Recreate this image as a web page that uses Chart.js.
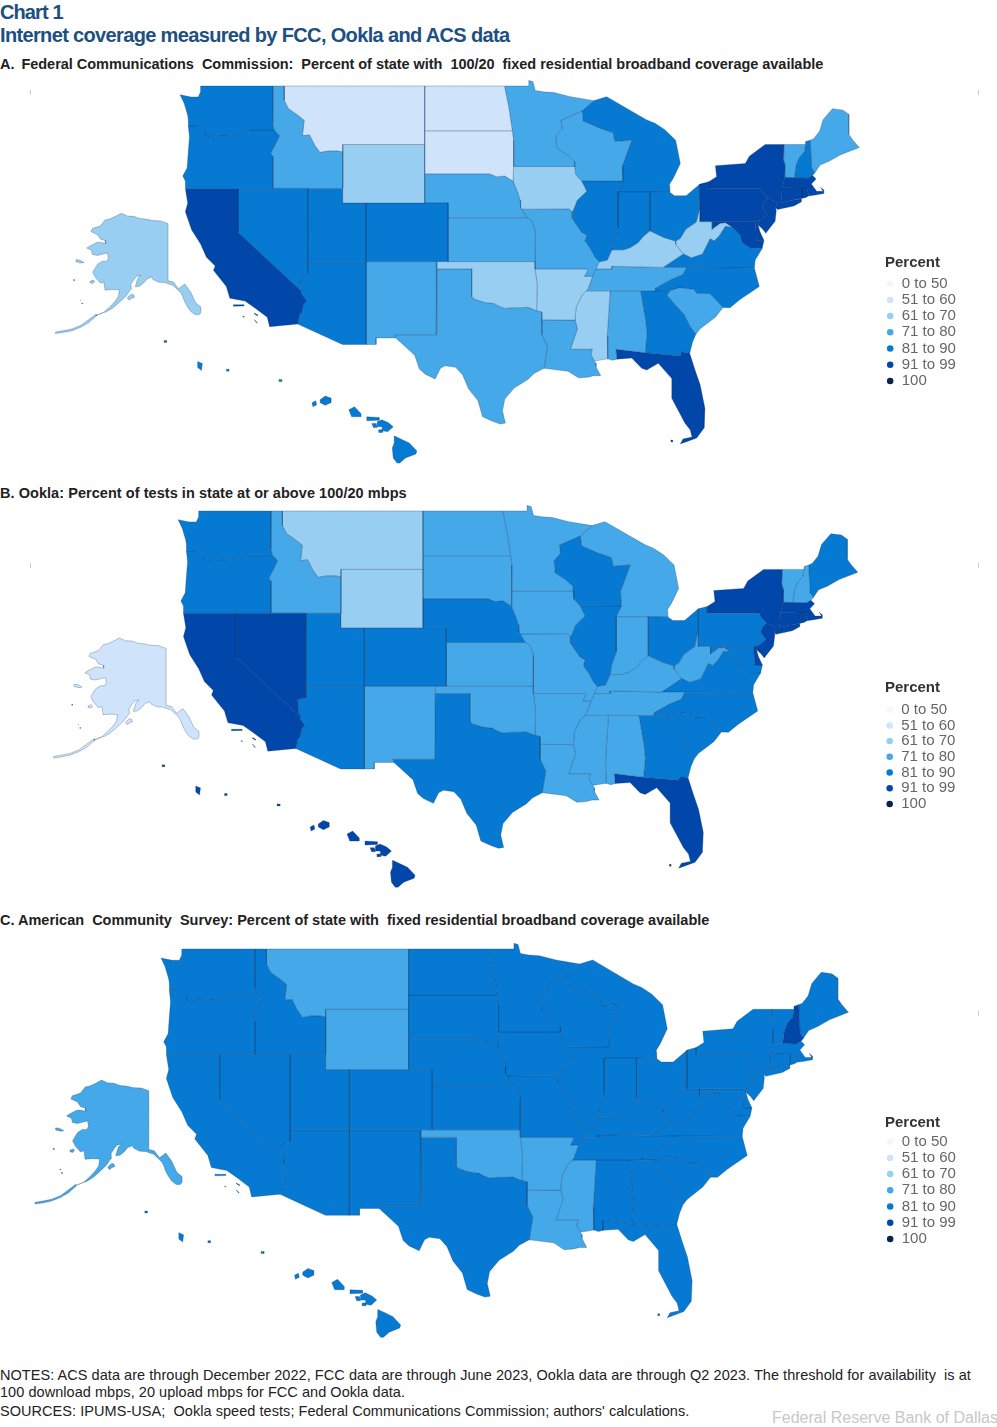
<!DOCTYPE html>
<html>
<head>
<meta charset="utf-8">
<script src="https://cdn.jsdelivr.net/npm/chart.js@4/dist/chart.umd.min.js"></script>
<style>
  html, body { margin: 0; padding: 0; background: #fff; }
  #page { position: relative; width: 997px; height: 1427px; overflow: hidden; font-family: "Liberation Sans", Arial, sans-serif; }
  #page div, #page canvas { position: absolute; }
  .txt { left: 0; white-space: pre; }
  .head { color: #1d4f82; font-weight: bold; font-size: 20px; line-height: 24px; }
  .sub { color: #222; font-weight: bold; font-size: 14.5px; line-height: 18px; }
  .note { color: #222; font-size: 14.5px; line-height: 18px; letter-spacing: .05px; }
  .tick { width: 1px; height: 5px; background: #ccc; }
</style>
</head>
<body>
<div id="page">
  <div class="txt head" style="top:0;letter-spacing:-.9px">Chart 1</div>
  <div class="txt head" style="top:23px;letter-spacing:-.65px">Internet coverage measured by FCC, Ookla and ACS data</div>
  <div class="txt sub" style="top:55px;letter-spacing:-.035px">A. <span style="margin-left:3px">Federal Communications  Commission:  Percent of state with  100/20  fixed residential broadband coverage available</span></div>
  <div class="txt sub" style="top:484px;letter-spacing:.05px">B. Ookla: Percent of tests in state at or above 100/20 mbps</div>
  <div class="txt sub" style="top:911px">C. American  Community  Survey: Percent of state with  fixed residential broadband coverage available</div>
  <div class="tick" style="left:30px;top:90px"></div><div class="tick" style="left:978px;top:90px"></div>
  <div class="tick" style="left:30px;top:563px"></div><div class="tick" style="left:978px;top:563px"></div>
  <div class="tick" style="left:978px;top:1011px"></div>
  <canvas id="mapA" width="997" height="400" style="left:0;top:76px"></canvas>
  <canvas id="mapB" width="997" height="400" style="left:0;top:500px"></canvas>
  <canvas id="mapC" width="997" height="410" style="left:0;top:935px"></canvas>
  <div class="txt note" style="top:1366px">NOTES: ACS data are through December 2022, FCC data are through June 2023, Ookla data are through Q2 2023. The threshold for availability  is at</div>
  <div class="txt note" style="top:1383px">100 download mbps, 20 upload mbps for FCC and Ookla data.</div>
  <div class="txt note" style="top:1402px">SOURCES: IPUMS-USA;  Ookla speed tests; Federal Communications Commission; authors' calculations.</div>
  <div class="txt" style="left:772px;top:1409px;font-size:16px;color:#c8c8c8">Federal Reserve Bank of Dallas</div>
</div>
<script>
const binLabels = ['0 to 50', '51 to 60', '61 to 70', '71 to 80', '81 to 90', '91 to 99', '100'];
const binTops = [50, 60, 70, 80, 90, 99, 100];
const binColors = ['#f3f7fd', '#cfe3fa', '#97cef2', '#45a8e8', '#067ad3', '#0147a9', '#0a2348'];

const stateCodes = ['WA','OR','CA','NV','ID','MT','WY','UT','AZ','CO','NM','ND','SD','NE','KS','OK','TX','MN','IA','MO','AR','LA','WI','IL','IN','OH','MI','KY','TN','MS','AL','GA','FL','SC','NC','VA','WV','PA','NY','NJ','DE','MD','CT','RI','MA','VT','NH','ME','AK','HI'];
const fccPct   = [85,85,93,85,76,55,66,85,85,85,76,55,55,76,76,66,76,76,66,76,66,76,76,85,85,85,85,66,76,66,76,85,93,76,85,85,66,93,93,93,93,93,93,93,93,76,85,76,66,85];
const ooklaPct = [85,85,93,93,76,66,66,85,85,85,76,76,76,85,76,76,85,76,76,76,76,76,85,85,76,85,76,76,76,76,76,85,93,85,85,85,76,85,93,93,93,85,93,93,93,76,76,85,55,93];
const acsPct   = [85,85,85,85,85,76,76,85,85,85,85,85,85,85,85,76,85,85,85,85,76,76,85,85,85,85,85,85,85,76,85,85,85,85,85,85,85,85,85,85,85,85,85,85,85,85,93,85,76,85];

// outlines in lon,lat pairs, one array per ring
const WA = [[-123.2,49,-117.03,49,-117.04,46.42,-116.92,46,-118.98,46,-119.3,45.93,-120.2,45.72,-121.2,45.65,-121.9,45.68,-122.3,45.55,-122.76,45.65,-122.8,45.95,-123.2,46.15,-123.55,46.26,-124.25,46.27,-124.25,46.7,-124.3,47,-124.6,47.8,-124.95,48.4,-124,48.25,-123.4,48.25,-123.2,48.6]];
const OR = [[-124.25,46.27,-123.55,46.26,-123.2,46.15,-122.8,45.95,-122.76,45.65,-122.3,45.55,-121.9,45.68,-121.2,45.65,-120.2,45.72,-119.3,45.93,-118.98,46,-116.92,46,-116.46,45.6,-116.85,44.95,-117.22,44.4,-117.03,44.2,-117.03,42,-124.5,42,-124.5,42.5,-124.72,42.84,-124.35,43.4,-124.25,44.5,-124.15,45.5]];
const CA = [[-124.5,42,-120,42,-120,39,-114.63,35,-114.57,34.8,-114.14,34.3,-114.43,34.05,-114.52,33.55,-114.72,33.4,-114.9,32.73,-117.3,32.55,-117.5,33.2,-118.5,33.8,-119.4,34.3,-120.7,34.5,-121,35.3,-122.1,36.4,-121.95,36.7,-122.7,37.3,-123.2,38.2,-123.96,39.15,-124.5,40.4,-124.3,41],
  [-120.4,34.05,-119.5,34.05,-119.5,33.97,-120.4,33.95],[-118.6,33.48,-118.3,33.35,-118.35,33.3,-118.6,33.42],[-118.6,33.03,-118.35,32.82,-118.4,32.8,-118.6,33],[-119.55,33.28,-119.45,33.22,-119.5,33.2,-119.6,33.24]];
const NV = [[-120,42,-114.04,42,-114.05,36.2,-114.75,36.1,-114.63,35,-120,39]];
const ID = [[-117.03,49,-116.05,49,-116.05,48,-115.7,47.45,-114.9,47,-114.35,46.65,-114.5,45.6,-113.9,45.65,-113.45,44.95,-113,44.45,-112.3,44.55,-111.5,44.55,-111.05,44.48,-111.05,42,-117.03,42,-117.03,44.2,-117.22,44.4,-116.85,44.95,-116.46,45.6,-116.92,46,-117.04,46.42]];
const MT = [[-116.05,49,-104.05,49,-104.05,45,-111.05,45,-111.05,44.48,-111.5,44.55,-112.3,44.55,-113,44.45,-113.45,44.95,-113.9,45.65,-114.5,45.6,-114.35,46.65,-114.9,47,-115.7,47.45,-116.05,48]];
const WY = [[-111.05,45,-104.05,45,-104.05,41,-111.05,41]];
const UT = [[-114.05,42,-111.05,42,-111.05,41,-109.05,41,-109.05,37,-114.05,37]];
const AZ = [[-114.05,37,-109.05,37,-109.05,31.33,-111.07,31.33,-114.9,32.73,-114.72,33.4,-114.52,33.55,-114.43,34.05,-114.14,34.3,-114.57,34.8,-114.63,35,-114.75,36.1,-114.05,36.2]];
const CO = [[-109.05,41,-102.05,41,-102.05,37,-109.05,37]];
const NM = [[-109.05,37,-103,37,-103.05,32,-106.62,32,-106.53,31.78,-108.2,31.78,-108.2,31.33,-109.05,31.33]];
const ND = [[-104.05,49,-97.23,49,-96.85,47.5,-96.56,45.94,-104.05,45.94]];
const SD = [[-104.05,45.94,-96.56,45.94,-96.45,45.3,-96.45,43.5,-96.5,42.5,-97.2,42.85,-97.9,42.8,-98.5,43,-104.05,43]];
const NE = [[-104.05,43,-98.5,43,-97.9,42.8,-97.2,42.85,-96.5,42.5,-96.1,41.7,-95.9,41.2,-95.85,40.7,-95.31,40,-102.05,40,-102.05,41,-104.05,41]];
const KS = [[-102.05,40,-95.31,40,-94.9,39.8,-94.6,39.1,-94.62,37,-102.05,37]];
const OK = [[-103,37,-94.62,37,-94.62,36.5,-94.43,35.4,-94.48,33.64,-95.2,33.87,-96,33.85,-96.6,33.85,-97.2,33.8,-97.7,33.95,-98.1,34.13,-98.9,34.2,-99.7,34.4,-100,34.56,-100,36.5,-103,36.5]];
const TX = [[-103,36.5,-100,36.5,-100,34.56,-99.7,34.4,-98.9,34.2,-98.1,34.13,-97.7,33.95,-97.2,33.8,-96.6,33.85,-96,33.85,-95.2,33.87,-94.48,33.64,-94.04,33.55,-94.04,33.02,-94.04,31.99,-93.55,31.18,-93.7,30.5,-93.85,29.7,-94.7,29.35,-95.2,28.95,-96.4,28.35,-97.2,27.6,-97.4,26.8,-97.15,25.96,-97.6,25.9,-98.3,26.1,-99.1,26.4,-99.5,27.5,-100.3,28.3,-100.8,29.25,-101.4,29.77,-102.3,29.88,-102.7,29.7,-103.15,28.98,-104,29.3,-104.5,29.65,-104.9,30.6,-106,31.4,-106.53,31.78,-106.62,32,-103.05,32]];
const MN = [[-97.23,49,-95.15,49,-95.15,49.38,-94.8,49.3,-94.6,48.7,-93.9,48.6,-93,48.55,-91.6,48.27,-89.6,48,-90.6,47.3,-92.4,46.67,-92.3,46.1,-92.85,45.6,-92.75,44.75,-91.9,44.3,-91.25,43.85,-91.22,43.5,-96.45,43.5,-96.45,45.3,-96.56,45.94,-96.85,47.5]];
const IA = [[-96.45,43.5,-91.22,43.5,-91.15,42.95,-90.64,42.51,-90.2,41.8,-91,41.2,-91.4,40.4,-91.7,40.6,-95.77,40.58,-95.85,40.7,-95.9,41.2,-96.1,41.7,-96.5,42.5]];
const MO = [[-95.77,40.58,-91.7,40.6,-91.4,40.4,-91.45,39.95,-90.65,39,-90.2,38.8,-90.35,38.4,-89.9,37.9,-89.5,37.3,-89.15,36.98,-89.4,36.5,-89.7,36,-90.37,35.99,-90.1,36.4,-90.2,36.5,-94.62,36.5,-94.62,37,-94.6,39.1,-94.9,39.8,-95.31,40]];
const AR = [[-94.62,36.5,-90.2,36.5,-90.1,36.4,-90.37,35.99,-89.7,36,-90.1,35.1,-90.6,34.7,-91.1,33.9,-91.2,33,-94.04,33.02,-94.04,33.55,-94.48,33.64,-94.43,35.4]];
const LA = [[-94.04,33.02,-91.2,33,-91,32.4,-91.6,31,-89.73,31,-89.85,30.65,-89.55,30.2,-89.4,30.05,-89.4,29.8,-89,29.2,-89.6,29.2,-90.1,29.1,-90.9,29.05,-91.8,29.5,-92.3,29.55,-93.85,29.7,-93.7,30.5,-93.55,31.18,-94.04,31.99]];
const WI = [[-92.4,46.67,-90.6,47.3,-90.5,46.6,-89.05,46.1,-87.95,45.8,-87.8,45.2,-86.35,45.3,-87.17,43.5,-87.1,42.5,-90.64,42.51,-91.15,42.95,-91.22,43.5,-91.25,43.85,-91.9,44.3,-92.75,44.75,-92.85,45.6,-92.3,46.1]];
const IL = [[-90.64,42.51,-87.1,42.5,-87.53,41.76,-87.53,39.35,-87.95,38.4,-88.05,37.8,-88.45,37.1,-89.15,36.98,-89.5,37.3,-89.9,37.9,-90.35,38.4,-90.2,38.8,-90.65,39,-91.45,39.95,-91.4,40.4,-91,41.2,-90.2,41.8]];
const IN = [[-87.53,41.76,-84.8,41.76,-84.8,39.1,-85.4,38.7,-85.8,38.3,-86.5,37.95,-87.1,37.8,-88.05,37.8,-87.95,38.4,-87.53,39.35]];
const OH = [[-84.8,41.76,-83.1,41.73,-82.7,41.5,-81.7,41.5,-80.52,42.3,-80.52,40.64,-80.6,40.6,-80.85,39.7,-81.75,39.2,-82.2,38.6,-82.6,38.4,-83.6,38.65,-84.8,39.1]];
const MI = [[-90.6,47.3,-89.6,48,-88.5,48.27,-85.07,46.68,-84.36,46.45,-83.5,46,-82.6,45.3,-82.2,43.7,-82.8,42.7,-83.15,42.25,-83.1,41.73,-84.8,41.76,-87.53,41.76,-87.1,42.5,-87.17,43.5,-86.35,45.3,-87.8,45.2,-87.95,45.8,-89.05,46.1,-90.5,46.6]];
const KY = [[-89.4,36.5,-89.15,36.98,-88.45,37.1,-88.05,37.8,-87.1,37.8,-86.5,37.95,-85.8,38.3,-85.4,38.7,-84.8,39.1,-83.6,38.65,-82.6,38.4,-82.6,38.17,-81.95,37.52,-83.68,36.6,-88.05,36.68,-88.05,36.5]];
const TN = [[-90.3,35,-90.1,35.1,-89.7,36,-89.4,36.5,-88.05,36.5,-88.05,36.68,-83.68,36.6,-81.68,36.59,-82,36.1,-83,35.78,-84.3,35.2,-84.32,34.99,-85.6,35,-88.2,35]];
const MS = [[-90.3,35,-88.2,35,-88.45,31.9,-88.4,30.35,-89.55,30.2,-89.85,30.65,-89.73,31,-91.6,31,-91,32.4,-91.2,33,-91.1,33.9,-90.6,34.7]];
const AL = [[-88.2,35,-85.6,35,-85.15,32.9,-85.05,32.1,-85.2,30.77,-87.7,31,-87.63,30.33,-88,30.25,-88.4,30.35,-88.45,31.9]];
const GA = [[-85.6,35,-84.32,34.99,-83.1,35,-83.35,34.7,-82.6,34,-81.9,33.4,-81.4,32.6,-80.87,32.03,-81.15,31.5,-81.4,30.73,-82.1,30.84,-82.2,30.55,-85.2,30.77,-85.05,32.1,-85.15,32.9]];
const FL = [[-87.7,31,-85.2,30.77,-82.2,30.55,-82.1,30.84,-81.4,30.73,-80.94,29.59,-80.5,28.56,-80.1,26.99,-80.17,25.62,-80.8,24.94,-82.2,24.53,-81.97,24.87,-81.2,25,-81.36,25.5,-81.8,25.95,-82.93,27.65,-82.93,29,-84.08,30.05,-85.07,29.59,-85.5,29.7,-86.35,30.4,-87.63,30.33],
  [-83,24.8,-82.86,24.8,-82.86,24.67,-83,24.67]];
const SC = [[-83.1,35,-82.3,35.2,-81.05,35.1,-80.8,34.82,-79.67,34.8,-78.55,33.86,-79.2,33.2,-80.5,32.4,-80.87,32.03,-81.4,32.6,-81.9,33.4,-82.6,34,-83.35,34.7]];
const NC = [[-84.32,34.99,-84.3,35.2,-83,35.78,-82,36.1,-81.68,36.59,-75.87,36.55,-75.45,35.3,-77.1,34.4,-77.95,33.85,-78.55,33.86,-79.67,34.8,-80.8,34.82,-81.05,35.1,-82.3,35.2,-83.1,35]];
const VA = [[-83.68,36.6,-81.68,36.59,-75.87,36.55,-75.8,37.1,-75.2,37.9,-76.25,37.92,-76.95,38.3,-77.05,38.75,-77.5,39.12,-77.75,39.33,-78.35,39.4,-78.85,38.77,-79.3,38.4,-79.65,38.55,-80.3,37.5,-81.25,37.25,-81.95,37.52]];
const WV = [[-80.52,40.64,-80.52,39.72,-79.48,39.72,-79.48,39.2,-78.8,39.6,-78.35,39.65,-77.75,39.33,-78.35,39.4,-78.85,38.77,-79.3,38.4,-79.65,38.55,-80.3,37.5,-81.25,37.25,-81.95,37.52,-82.6,38.17,-82.6,38.4,-82.2,38.6,-81.75,39.2,-80.85,39.7,-80.6,40.6]];
const PA = [[-80.52,42.3,-79.76,42.46,-79.76,42,-75.35,42,-75.05,41.6,-74.7,41.36,-75.1,41,-75.2,40.7,-74.75,40.2,-75.4,39.8,-75.79,39.72,-80.52,39.72]];
const NY = [[-79.76,42,-79.76,42.46,-79.1,42.8,-79.2,43.55,-76.65,43.7,-76.3,44.2,-74.95,45,-73.35,45,-73.4,44,-73.25,43.6,-73.27,42.75,-73.5,42.05,-73.55,41.3,-73.65,41,-72.9,41.15,-71.87,41.3,-71.87,41.07,-72.5,40.8,-73.9,40.55,-74.05,40.7,-73.95,41,-74.7,41.36,-75.05,41.6,-75.35,42]];
const NJ = [[-74.7,41.36,-73.95,41,-74.05,40.7,-74,40.45,-74.1,39.75,-74.4,39.45,-74.9,38.93,-75.15,39.2,-75.55,39.5,-75.4,39.8,-74.75,40.2,-75.2,40.7,-75.1,41]];
const DE = [[-75.79,39.72,-75.4,39.8,-75.55,39.5,-75.4,39.05,-75.05,38.45,-75.7,38.45]];
const MD = [[-79.48,39.72,-75.79,39.72,-75.7,38.45,-75.05,38.45,-75.2,37.9,-76.25,37.92,-76.95,38.3,-77.05,38.75,-77.5,39.12,-77.75,39.33,-78.35,39.65,-78.8,39.6,-79.48,39.2]];
const CT = [[-73.5,42.05,-71.8,42.02,-71.8,41.32,-72.9,41.15,-73.65,41,-73.55,41.3]];
const RI = [[-71.8,42.02,-71.38,42.02,-71.2,41.5,-71.5,41.37,-71.8,41.32]];
const MA = [[-73.5,42.05,-73.27,42.75,-71.3,42.7,-70.9,42.88,-70.6,42.65,-71,42.3,-70.55,41.8,-70,41.8,-70.2,42.07,-69.95,41.9,-69.95,41.65,-70.65,41.55,-71.1,41.5,-71.2,41.5,-71.38,42.02,-71.8,42.02]];
const VT = [[-73.35,45,-71.5,45,-71.6,44.5,-72.05,44.1,-72.3,43.6,-72.46,42.73,-73.27,42.75,-73.25,43.6,-73.4,44]];
const NH = [[-71.5,45,-71.5,45.2,-71.1,45.3,-70.98,43.4,-70.7,43.07,-70.9,42.88,-71.3,42.7,-72.46,42.73,-72.3,43.6,-72.05,44.1,-71.6,44.5]];
const ME = [[-71.1,45.3,-70.8,45.4,-70.3,45.9,-70,46.7,-69.2,47.45,-68.3,47.35,-67.8,47.07,-67.8,45.7,-67.45,45.3,-66.9,44.8,-68.5,44.3,-69.5,43.85,-70.25,43.6,-70.7,43.07,-70.98,43.4]];
const AK = [[-141,69.65,-143.5,70.1,-146,70.15,-148.5,70.4,-150.5,70.5,-152.5,70.85,-154.5,70.9,-156.6,71.35,-158.5,70.85,-160.5,70.4,-162,70.25,-163.5,69.3,-166.2,68.85,-166.7,68.35,-164.5,67.85,-163.5,67.1,-162,66.9,-161.8,66.4,-163.7,66.6,-164.8,66.55,-167,66,-168.1,65.65,-166.5,65.3,-166.2,64.6,-164.5,64.45,-161.2,64.85,-160.9,64,-161.4,63.5,-162.9,63.5,-164.4,63.05,-165,62.6,-166.1,61.7,-165.3,60.9,-163.5,59.9,-162.4,60.1,-162,58.75,-159.8,58.85,-157.2,58.8,-157.55,57.7,-158.7,56.9,-160.5,55.95,-162.5,55.1,-164.9,54.6,-163,55,-161.5,55.2,-159.5,55.8,-158,56.4,-156.5,57.1,-155,57.8,-154,58.5,-153.2,59,-153.4,59.7,-152.5,60.4,-151.5,61,-150,61.2,-151,60.75,-151.4,60.2,-151.9,59.3,-150.5,59.4,-149,60,-148,60.6,-146.5,60.9,-146,60.5,-144,60.05,-142,60,-140.5,59.7,-139.5,59.6,-138,58.9,-136.7,58.3,-136,57.6,-135.5,56.9,-134.5,56,-133.5,55.3,-132,54.75,-130.6,54.75,-130.05,55.1,-130.05,56,-131.8,56.7,-133.4,58.4,-135.4,59.75,-137.5,59,-139.2,60.1,-141,60.3],
  [-154.5,57.4,-153.9,57.1,-153.3,57.4,-152.2,57.6,-152.5,58,-153.2,58.1,-154.2,57.7],
  [-167,60.2,-166,60.4,-165.5,60.2,-166,59.85,-167,59.95],
  [-171.7,63.75,-170.5,63.7,-169,63.3,-170,63.2,-171.7,63.4],
  [-172.5,60.5,-172.2,60.5,-172.2,60.3,-172.5,60.3],
  [-170.3,57.2,-170.1,57.2,-170.1,57.05,-170.3,57.05],[-169.8,56.65,-169.5,56.65,-169.5,56.5,-169.8,56.5],
  [-178.5,51.9,-176,52.1,-173,52.4,-170,53,-167.5,53.9,-165,54.8,-164.9,54.5,-167.5,53.4,-170,52.7,-173,52.1,-176,51.8,-178.5,51.65]];
const HI = [[-160.25,21.95,-160.05,22.05,-160,21.85,-160.2,21.75],
  [-159.82,22.1,-159.55,22.28,-159.25,22.18,-159.25,21.95,-159.55,21.82,-159.82,21.95],
  [-158.3,21.6,-158.15,21.25,-157.65,21.25,-157.65,21.4,-158,21.75],
  [-157.35,21.25,-156.7,21.22,-156.7,21.08,-157.35,21.05],
  [-157.08,20.92,-156.85,20.92,-156.8,20.72,-157,20.72],
  [-156.8,21,-156.55,21.1,-156.2,20.95,-155.95,20.75,-156.25,20.5,-156.5,20.55,-156.55,20.75,-156.8,20.75],
  [-156.72,20.6,-156.52,20.62,-156.52,20.47,-156.72,20.47],
  [-155.9,20.3,-155.55,20.15,-155.1,19.95,-154.7,19.55,-154.75,19.4,-155.3,19.2,-155.6,18.95,-155.75,18.95,-155.95,19.2,-156,19.7,-155.9,19.95],
  [-162,23.1,-161.85,23.1,-161.85,23,-162,23],
  [-164.78,23.62,-164.65,23.62,-164.65,23.52,-164.78,23.52],
  [-166.3,24,-166.05,23.9,-166.1,23.55,-166.3,23.7],
  [-168.08,25.05,-167.95,25.05,-167.95,24.95,-168.08,24.95]];
const stateRings = [WA,OR,CA,NV,ID,MT,WY,UT,AZ,CO,NM,ND,SD,NE,KS,OK,TX,MN,IA,MO,AR,LA,WI,IL,IN,OH,MI,KY,TN,MS,AL,GA,FL,SC,NC,VA,WV,PA,NY,NJ,DE,MD,CT,RI,MA,VT,NH,ME,AK,HI];

// Alaska and Hawaii sit in insets, so move them into the map's degrees
const insets = {
  AK: (lon, lat) => ({ x: -125.98 + (lon + 141) * 0.2564, y: 40.32 - (71.4 - lat) * 0.417 }),
  HI: (lon, lat) => ({ x: -112.5 + (lon + 159.52) * 1.615, y: 27.49 + (lat - 22.05) * 1.374 })
};

function binColor(v) {
  return binColors[binTops.findIndex(t => v <= t)];
}

function ringPoints(ring, code) {
  const move = insets[code] || ((lon, lat) => ({ x: lon, y: lat }));
  const pts = [];
  for (let i = 0; i < ring.length; i += 2) pts.push(move(ring[i], ring[i + 1]));
  pts.push(pts[0]);
  return pts;
}

function buildDatasets(values) {
  const out = [];
  stateCodes.forEach((code, i) => {
    stateRings[i].forEach(ring => {
      out.push({
        label: code,
        data: ringPoints(ring, code),
        showLine: true,
        fill: 'shape',
        tension: 0,
        backgroundColor: binColor(values[i]),
        borderColor: 'rgba(20,50,90,0.45)',
        borderWidth: 0.6,
        pointRadius: 0,
        pointHoverRadius: 0
      });
    });
  });
  return out;
}

// puts the legend at the place it has in the reference
const legendPlace = {
  id: 'legendPlace',
  afterLayout(chart) {
    const o = chart.options.plugins.legendPlace;
    chart.legend.top = o.top;
    chart.legend.left = o.left;
  }
};

const plotW = 916;

function drawMap(id, values, x0, xs, y0, ys, top, h, lg) {
  new Chart(document.getElementById(id).getContext('2d'), {
    type: 'scatter',
    data: { datasets: buildDatasets(values) },
    plugins: [legendPlace],
    options: {
      responsive: false,
      animation: false,
      events: [],
      layout: { padding: 0 },
      scales: {
        x: { type: 'linear', display: false, min: -124.7 - x0 / xs, max: -124.7 + (plotW - x0) / xs },
        y: { type: 'linear', display: false, max: 49 + (y0 - top) / ys, min: 49 - (top + h - y0) / ys }
      },
      plugins: {
        tooltip: { enabled: false },
        legendPlace: { top: lg.top, left: 885 },
        legend: {
          position: 'right',
          align: 'start',
          onClick: null,
          title: { display: true, text: 'Percent', position: 'start', color: '#333', font: { family: 'Liberation Sans', size: 15, weight: 'bold' }, padding: { top: lg.padTop, bottom: lg.padBottom } },
          labels: {
            usePointStyle: true,
            boxWidth: 8,
            boxHeight: 4.6,
            padding: lg.gap,
            color: '#666',
            font: { family: 'Liberation Sans', size: 15 },
            generateLabels: () => binLabels.map((text, i) => ({
              text, fillStyle: binColors[i], strokeStyle: binColors[i], lineWidth: 0, pointStyle: 'circle', fontColor: '#666', hidden: false, datasetIndex: i
            }))
          }
        }
      }
    }
  });
}

drawMap('mapA', fccPct, 183, 11.7, 86, 14.63, 76, 400, { top: 177, padTop: 2, padBottom: 2, gap: 1.2 });
drawMap('mapB', ooklaPct, 181, 11.7, 511, 14.6, 500, 400, { top: 179, padTop: 1, padBottom: 3.5, gap: 0.7 });
drawMap('mapC', acsPct, 164, 11.84, 949, 15.07, 935, 410, { top: 177, padTop: 3, padBottom: 0, gap: 1.2 });
</script>
</body>
</html>
